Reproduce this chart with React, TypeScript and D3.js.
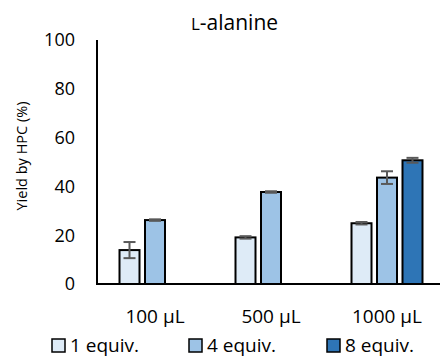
import React from "react";
import * as d3 from "d3";

const groups = ["100 µL", "500 µL", "1000 µL"];
const series = ["1 equiv.", "4 equiv.", "8 equiv."];
const colors = ["#DEEBF7", "#9DC3E6", "#2E75B6"];

// values per series (null = not measured)
const oneEquiv = [13.9, 19.1, 24.9];
const fourEquiv = [26.2, 37.7, 43.6];
const eightEquiv = [null, null, 50.7];
const oneErr = [3.3, 0.5, 0.5];
const fourErr = [0.3, 0.3, 2.6];
const eightErr = [null, null, 1.0];

const yTicks = [0, 20, 40, 60, 80, 100];

const values = [oneEquiv, fourEquiv, eightEquiv];
const errors = [oneErr, fourErr, eightErr];

const font = "'Open Sans', 'Noto Sans', sans-serif";

const App = () => {
  const width = 440;
  const height = 357;
  const left = 97;
  const top = 40;
  const bottom = 284;
  const right = 445;

  const y = d3.scaleLinear().domain([0, 100]).range([bottom, top]);
  const x0 = d3
    .scaleBand()
    .domain(groups)
    .range([left, right])
    .paddingInner(0.388)
    .paddingOuter(0.194);
  const x1 = d3
    .scaleBand()
    .domain(series)
    .range([0, x0.bandwidth()])
    .paddingInner(0.2157)
    .paddingOuter(0);

  const legendX = [52, 189, 327];

  return (
    <svg
      width={width}
      height={height}
      style={{ position: "absolute", left: 0, top: 0, background: "#fff" }}
      fontFamily={font}
    >
      <text x={234.5} y={30} textAnchor="middle" fontSize={21} fill="#000">
        <tspan fontSize={17}>L</tspan>-alanine
      </text>

      <text
        transform={`translate(27, ${(100 + 212) / 2}) rotate(-90)`}
        textAnchor="middle"
        fontSize={14.5}
        fill="#000"
      >
        Yield by HPC (%)
      </text>

      {yTicks.map((t) => (
        <text
          key={t}
          x={75}
          y={y(t)}
          dy="0.35em"
          textAnchor="end"
          fontSize={18}
          fill="#000"
        >
          {t}
        </text>
      ))}

      {groups.map((g) => (
        <text
          key={g}
          x={x0(g)! + x0.bandwidth() / 2}
          y={323}
          textAnchor="middle"
          fontSize={19}
          fill="#000"
        >
          {g}
        </text>
      ))}

      {groups.map((g, gi) =>
        series.map((s, si) => {
          const v = values[si][gi];
          if (v == null) return null;
          const bx = x0(g)! + x1(s)!;
          const bw = x1.bandwidth();
          const e = errors[si][gi] ?? 0;
          const cx = bx + bw / 2;
          return (
            <g key={g + s}>
              <rect
                x={bx}
                y={y(v)}
                width={bw}
                height={y(0) - y(v)}
                fill={colors[si]}
                stroke="#000"
                strokeWidth={2}
              />
              <g stroke="#595959" strokeWidth={2}>
                <line x1={cx} x2={cx} y1={y(v + e)} y2={y(v - e)} />
                <line x1={cx - 6} x2={cx + 6} y1={y(v + e)} y2={y(v + e)} />
                <line x1={cx - 6} x2={cx + 6} y1={y(v - e)} y2={y(v - e)} />
              </g>
            </g>
          );
        })
      )}

      <line x1={left} x2={left} y1={top} y2={bottom + 1} stroke="#000" strokeWidth={2} />
      <line x1={left - 1} x2={width} y1={bottom} y2={bottom} stroke="#000" strokeWidth={2} />

      {series.map((s, i) => (
        <g key={s} transform={`translate(${legendX[i]}, 339)`}>
          <rect x={0} y={0} width={13} height={13} fill={colors[i]} stroke="#000" strokeWidth={1.5} />
          <text x={18} y={13} fontSize={19} fill="#000">
            {s}
          </text>
        </g>
      ))}
    </svg>
  );
};

export default App;
